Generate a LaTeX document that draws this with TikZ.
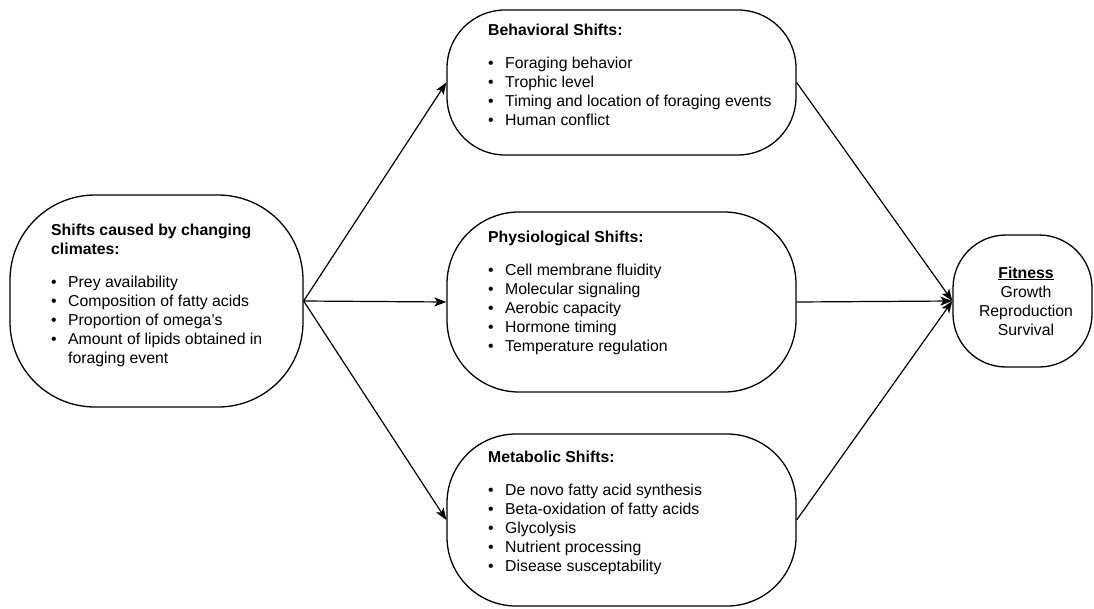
\documentclass[tikz,border=0pt]{standalone}
\usepackage{fontspec}
\setmainfont{Liberation Sans}
\usetikzlibrary{arrows.meta}
\newcommand{\bul}[1]{\makebox[17pt][l]{•}#1}
\begin{document}
\begin{tikzpicture}[x=1pt,y=-1pt,
  box/.style={draw, line width=1.3pt, rounded corners=#1, inner sep=0pt},
  txt/.style={inner sep=0pt, font=\fontsize{15.8}{19}\selectfont},
  arr/.style={draw, line width=1.2pt, -{Stealth[length=12pt,width=9pt,inset=3pt]}}
]
\useasboundingbox (0,0) rectangle (1094,608);
% shapes
\node[box=85pt, minimum width=293pt, minimum height=212pt] (left) at (156.5,301) {};
\node[box=58pt, minimum width=349pt, minimum height=145pt] (top) at (621.5,82.5) {};
\node[box=72pt, minimum width=349pt, minimum height=180pt] (mid) at (621.5,302) {};
\node[box=69pt, minimum width=349pt, minimum height=172pt] (bot) at (621.5,520) {};
\node[box=53pt, minimum width=139pt, minimum height=132pt] (fit) at (1022.5,301) {};
% texts
\node[txt, anchor=base west] (leftT) at (51,235) {\begin{tabular}[t]{@{}l@{}}\textbf{Shifts caused by changing}\\ \textbf{climates:}\\[14pt]
\bul{Prey availability}\\ \bul{Composition of fatty acids}\\ \bul{Proportion of omega's}\\ \bul{Amount of lipids obtained in}\\ \hspace{17pt}foraging event\end{tabular}};
\node[txt, anchor=base west] (topT) at (488,35) {\begin{tabular}[t]{@{}l@{}}\textbf{Behavioral Shifts:}\\[14pt]
\bul{Foraging behavior}\\ \bul{Trophic level}\\ \bul{Timing and location of foraging events}\\ \bul{Human conflict}\end{tabular}};
\node[txt, anchor=base west] (midT) at (488,242) {\begin{tabular}[t]{@{}l@{}}\textbf{Physiological Shifts:}\\[14pt]
\bul{Cell membrane fluidity}\\ \bul{Molecular signaling}\\ \bul{Aerobic capacity}\\ \bul{Hormone timing}\\ \bul{Temperature regulation}\end{tabular}};
\node[txt, anchor=base west] (botT) at (488,462) {\begin{tabular}[t]{@{}l@{}}\textbf{Metabolic Shifts:}\\[14pt]
\bul{De novo fatty acid synthesis}\\ \bul{Beta-oxidation of fatty acids}\\ \bul{Glycolysis}\\ \bul{Nutrient processing}\\ \bul{Disease susceptability}\end{tabular}};
\node[txt, anchor=base] (fitT) at (1026,278) {\begin{tabular}[t]{@{}c@{}}\textbf{\underline{Fitness}}\\ Growth\\ Reproduction\\ Survival\end{tabular}};
% connectors
\draw[arr] (left.east) -- (top.west);
\draw[arr] (left.east) -- (mid.west);
\draw[arr] (left.east) -- (bot.west);
\draw[arr] (top.east) -- (fit.west);
\draw[arr] (mid.east) -- (fit.west);
\draw[arr] (bot.east) -- (fit.west);
\end{tikzpicture}
\end{document}
